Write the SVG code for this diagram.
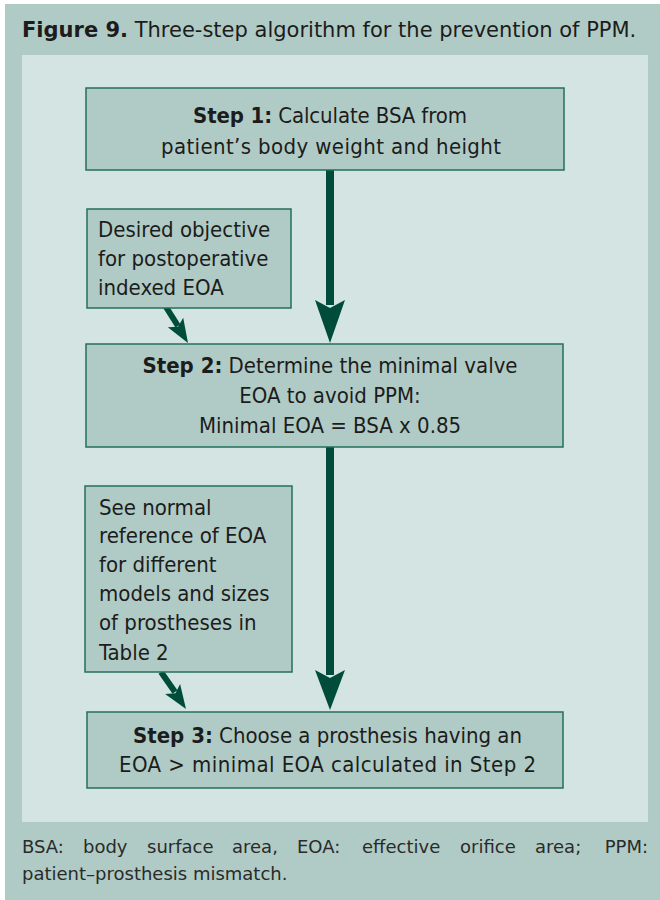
<svg xmlns="http://www.w3.org/2000/svg" width="660" height="900" viewBox="0 0 660 900">
<style>
text{font-family:"DejaVu Sans Condensed","DejaVu Sans",sans-serif;font-stretch:condensed;fill:#1c1c1c;font-size:22px}
.b{font-weight:bold}
.c{text-anchor:middle}
.t{font-family:"DejaVu Sans",sans-serif;font-stretch:normal;font-size:21px}
.cap{font-family:"DejaVu Sans",sans-serif;font-stretch:normal;font-size:18px;fill:#2a2a2a}
.box{fill:#b0cbc5;stroke:#22705a;stroke-width:1.5}
.arr{fill:#004c3a}
.stem{stroke:#004c3a;fill:none}
</style>
<rect x="5" y="4" width="655" height="896" fill="#b0cbc5"/>
<g id="title"><text class="t" x="22" y="37"><tspan class="b">Figure 9.</tspan> Three-step algorithm for the prevention of PPM.</text></g>
<rect id="panel" x="22" y="55" width="626" height="767" fill="#d4e4e2"/>
<g id="connectors">
<line class="stem" x1="330" y1="170" x2="330" y2="305" stroke-width="8"/>
<polygon class="arr" points="315,300 330,308 345,300 330,343"/>
<line class="stem" x1="330" y1="447" x2="330" y2="675" stroke-width="8"/>
<polygon class="arr" points="315,670 330,678 345,670 330,710"/>
<line class="stem" x1="166" y1="307" x2="178" y2="326" stroke-width="6"/>
<polygon class="arr" points="183.2,317.8 178.1,326.8 167.8,327.2 188,343"/>
<line class="stem" x1="161" y1="672" x2="175" y2="692" stroke-width="6"/>
<polygon class="arr" points="180.1,684.1 175.4,693.2 165.1,694.1 186,709"/>
</g>
<g id="step1"><rect class="box" x="86" y="88" width="478" height="82"/>
<text class="c" x="330" y="123" textLength="274" lengthAdjust="spacing"><tspan class="b">Step 1:</tspan> Calculate BSA from</text>
<text class="c" x="331" y="154" textLength="340" lengthAdjust="spacing">patient’s body weight and height</text></g>
<g id="desired"><rect class="box" x="87" y="209" width="204" height="99"/>
<text x="98" y="237">Desired objective</text>
<text x="98" y="266">for postoperative</text>
<text x="98" y="295">indexed EOA</text></g>
<g id="step2"><rect class="box" x="86" y="344" width="477" height="103"/>
<text class="c" x="330" y="373"><tspan class="b">Step 2:</tspan> Determine the minimal valve</text>
<text class="c" x="330" y="403">EOA to avoid PPM:</text>
<text class="c" x="330" y="433">Minimal EOA = BSA x 0.85</text></g>
<g id="reference"><rect class="box" x="85" y="486" width="207" height="186"/>
<text x="99" y="515">See normal</text>
<text x="99" y="543">reference of EOA</text>
<text x="99" y="572">for different</text>
<text x="99" y="601">models and sizes</text>
<text x="99" y="630">of prostheses in</text>
<text x="99" y="660">Table 2</text></g>
<g id="step3"><rect class="box" x="87" y="712" width="476" height="76"/>
<text class="c" x="327.5" y="743" textLength="389" lengthAdjust="spacing"><tspan class="b">Step 3:</tspan> Choose a prosthesis having an</text>
<text class="c" x="327.5" y="772" textLength="417" lengthAdjust="spacing">EOA &gt; minimal EOA calculated in Step 2</text></g>
<g id="caption">
<text class="cap" x="22" y="853">BSA:</text>
<text class="cap" x="83" y="853">body</text>
<text class="cap" x="147" y="853">surface</text>
<text class="cap" x="232" y="853">area,</text>
<text class="cap" x="297" y="853">EOA:</text>
<text class="cap" x="362" y="853">effective</text>
<text class="cap" x="460" y="853">orifice</text>
<text class="cap" x="535" y="853">area;</text>
<text class="cap" x="648" y="853" text-anchor="end">PPM:</text>
<text class="cap" x="22" y="880">patient–prosthesis mismatch.</text>
</g>
</svg>
